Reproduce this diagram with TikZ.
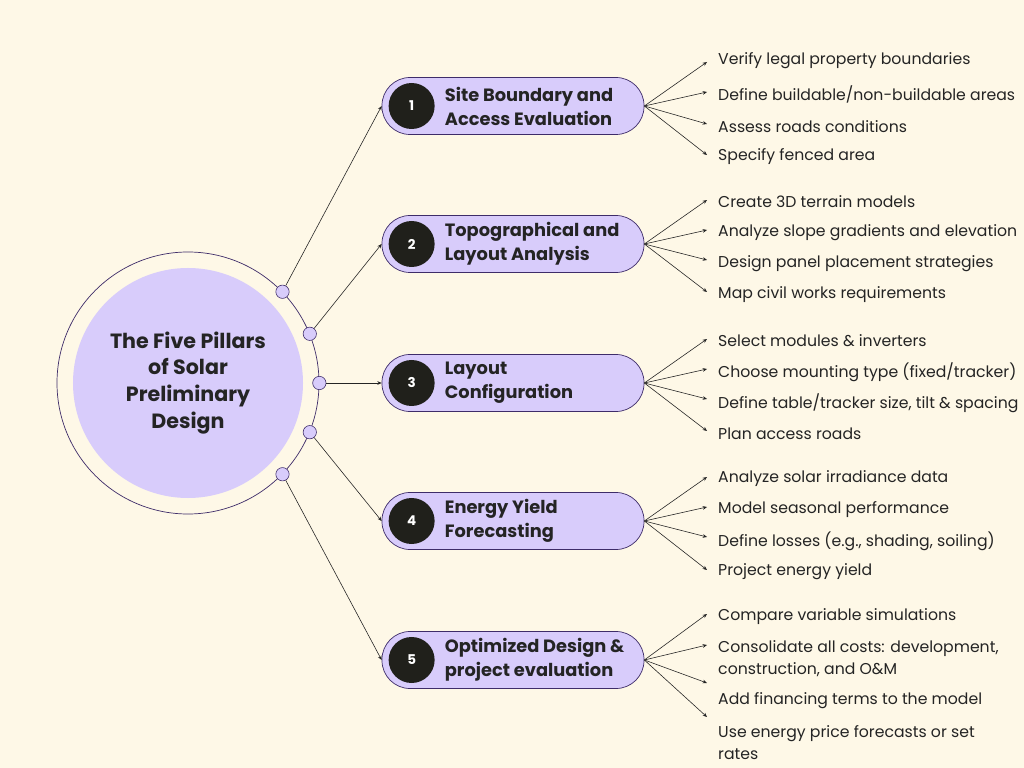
\documentclass[tikz,border=0pt]{standalone}
\usepackage{fontspec}
\setmainfont{Poppins}
\usetikzlibrary{arrows.meta,positioning,calc}
\definecolor{paper}{HTML}{FEF8E7}
\definecolor{lilac}{HTML}{D8CCFB}
\definecolor{plum}{HTML}{3E2C69}
\definecolor{ink}{HTML}{242424}
\definecolor{badge}{HTML}{20201B}
\tikzset{
  pill/.style={draw=plum,fill=lilac,line width=0.6pt,rounded corners=0.84cm,
               minimum width=7.86cm,minimum height=1.71cm,inner sep=0pt},
  numbadge/.style={circle,fill=badge,minimum size=1.38cm,inner sep=0pt,
                   text=white,font=\bfseries\fontsize{11.5}{13}\selectfont},
  pilltitle/.style={anchor=west,align=left,inner sep=0pt,text=ink,
                    font=\bfseries\fontsize{15.2}{20.5}\selectfont},
  bullet/.style={anchor=west,align=left,inner sep=0pt,text=ink,
                 font=\fontsize{13.4}{18.8}\selectfont},
  hubdot/.style={circle,draw=plum,fill=lilac,line width=0.5pt,
                 minimum size=0.4cm,inner sep=0pt},
  linkarr/.style={-{Stealth[length=1.3mm,width=1.1mm]},line width=0.5pt,color=ink}
}
\begin{document}
\begin{tikzpicture}[x=0.03cm,y=-0.03cm]
  \fill[paper] (0,0) rectangle (1024,768);
  \useasboundingbox (0,0) rectangle (1024,768);

  % hub: ring and filled disc
  \node[circle,draw=plum,line width=0.6pt,minimum size=7.86cm,inner sep=0pt] (ring) at (188,383) {};
  \node[circle,fill=lilac,minimum size=6.9cm,inner sep=0pt,align=center,text=ink,
        font=\bfseries\fontsize{17.6}{23}\selectfont] (core) at (188,383)
    {The Five Pillars\\of Solar\\Preliminary\\Design};

  % the five pillars
  \foreach \k/\y/\ttl in {1/106/{Site Boundary and\\Access Evaluation},
                          2/244/{Topographical and\\Layout Analysis},
                          3/383/{Layout\\Configuration},
                          4/521/{Energy Yield\\Forecasting},
                          5/660/{Optimized Design \&\\project evaluation}} {
    \node[pill] (p\k) at (513,\y) {};
    \node[numbadge] (n\k) at ($(p\k.west)+(30,0)$) {\k};
    \node[pilltitle] (t\k) at ($(p\k.west)+(63,0)$) {\ttl};
  }

  % dots on the ring and links to the pillars
  \foreach \k/\a in {1/44,2/22,3/0,4/-22,5/-44} {
    \node[hubdot] (d\k) at (ring.\a) {};
    \draw[linkarr] (d\k) -- (p\k.west);
  }

  % tasks of each pillar
  \foreach \p/\ty/\ay/\txt [count=\n] in {
      1/61/62/{Verify legal property boundaries},
      1/94/92/{Define buildable/non-buildable areas},
      1/127/124/{Assess roads conditions},
      1/157/155/{Specify fenced area},
      2/202/200/{Create 3D terrain models},
      2/233/230/{Analyze slope gradients and elevation},
      2/264/260/{Design panel placement strategies},
      2/295/292/{Map civil works requirements},
      3/341/339/{Select modules \& inverters},
      3/372/369/{Choose mounting type (fixed/tracker)},
      3/403/399/{Define table/tracker size, tilt \& spacing},
      3/434/431/{Plan access roads},
      4/479/477/{Analyze solar irradiance data},
      4/510/507/{Model seasonal performance},
      4/541/537/{Define losses (e.g., shading, soiling)},
      4/572/570/{Project energy yield},
      5/617/614/{Compare variable simulations},
      5/659/645/{Consolidate all costs: development,\\construction, and O\&M},
      5/701/683/{Add financing terms to the model},
      5/743/717/{Use energy price forecasts or set\\rates}} {
    \node[bullet] (b\n) at (718,\ty) {\txt};
    \coordinate (e\n) at (707,\ay);
    \draw[linkarr] (p\p.east) -- (e\n);
  }
\end{tikzpicture}
\end{document}
